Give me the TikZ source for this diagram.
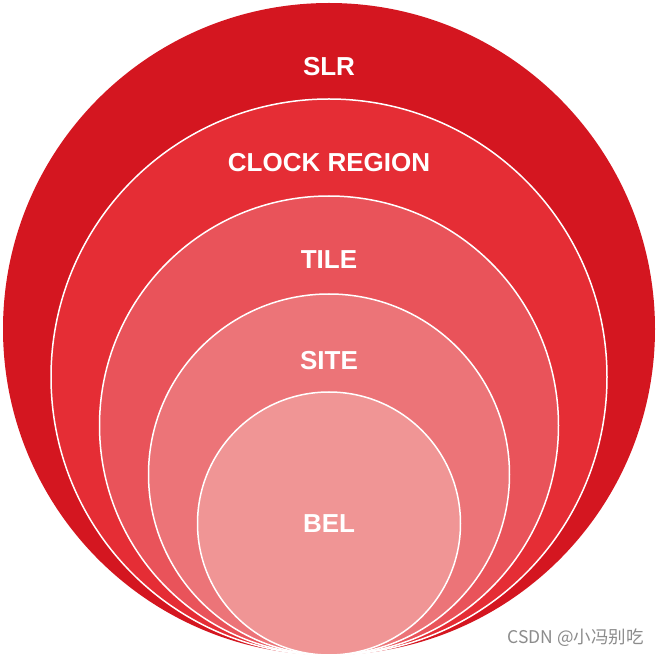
\documentclass[tikz,border=0pt]{standalone}
\usepackage{fontspec}
\setmainfont{Liberation Sans}
\newfontfamily\cjk{Noto Sans CJK SC}
\definecolor{cA}{RGB}{212,22,32}
\definecolor{cB}{RGB}{229,45,53}
\definecolor{cC}{RGB}{233,83,90}
\definecolor{cD}{RGB}{236,116,120}
\definecolor{cE}{RGB}{240,149,149}
\definecolor{wm}{RGB}{140,140,140}
\begin{document}
\begin{tikzpicture}[x=1pt,y=1pt,
  ring/.style={draw=white,line width=1.5pt},
  lbl/.style={text=white,font=\fontsize{26}{28}\selectfont\bfseries,inner sep=0pt}]
\useasboundingbox[fill=white] (0,0) rectangle (657,657);
\fill[cA] (329,328) circle[radius=326];
\filldraw[ring,fill=cB] (329,280) circle[radius=278];
\filldraw[ring,fill=cC] (329,231.5) circle[radius=229.5];
\filldraw[ring,fill=cD] (329,182.5) circle[radius=180.5];
\filldraw[ring,fill=cE] (329,133.5) circle[radius=131.5];
\node[lbl] (slr) at (329,590) {SLR};
\node[lbl] (clk) at (329,494) {CLOCK REGION};
\node[lbl] (tile) at (329,397) {TILE};
\node[lbl] (site) at (329,296) {SITE};
\node[lbl] (bel) at (329,133) {BEL};
\node[text=wm,font=\cjk\fontsize{17.5}{19}\selectfont,anchor=east,inner sep=0pt] (wmk) at (644,19) {CSDN @小冯别吃};
\end{tikzpicture}
\end{document}
